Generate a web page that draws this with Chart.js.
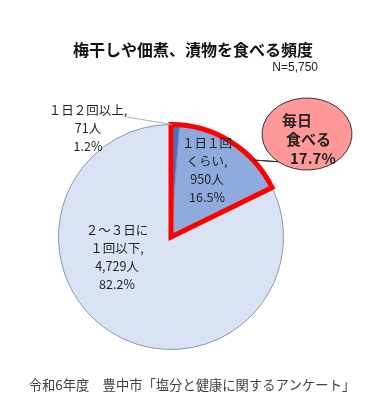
<!DOCTYPE html>
<html>
<head>
<meta charset="utf-8">
<script src="https://cdn.jsdelivr.net/npm/chart.js@4.4.0/dist/chart.umd.min.js"></script>
<style>
  html, body { margin: 0; padding: 0; background: #fff; }
  #wrap { width: 385px; height: 407px; }
</style>
</head>
<body>
<div id="wrap"><canvas id="chart" width="385" height="407"></canvas></div>
<script>
const categories = ['１日２回以上', '１日１回くらい', '２～３日に１回以下'];
const counts = [71, 950, 4729];
const percents = ['1.2%', '16.5%', '82.2%'];
const labelLines = [
  ['１日２回以上,', '71人', '1.2%'],
  ['１日１回', 'くらい,', '950人', '16.5%'],
  ['２～３日に', '１回以下,', '4,729人', '82.2%']
];
const titleText = '梅干しや佃煮、漬物を食べる頻度';
const totalText = 'N=5,750';
const calloutLines = ['毎日', '食べる', '17.7%'];
const sourceText = '令和6年度　豊中市「塩分と健康に関するアンケート」';

const JP = '"Noto Sans CJK JP", "Noto Sans", sans-serif';

// where each label block sits, relative to the pie centre
const labelOffsets = [[-83, -109], [36, -67], [-54, 20]];

const decorations = {
  id: 'decorations',
  afterDatasetsDraw(chart) {
    const ctx = chart.ctx;
    const meta = chart.getDatasetMeta(0);
    const a0 = meta.data[0].getProps(['x', 'y', 'startAngle', 'endAngle', 'outerRadius'], true);
    const a1 = meta.data[1].getProps(['x', 'y', 'startAngle', 'endAngle', 'outerRadius'], true);
    const cx = a0.x, cy = a0.y, r = a0.outerRadius;

    // red outline round the "every day" slices
    ctx.save();
    ctx.beginPath();
    ctx.moveTo(cx, cy);
    ctx.arc(cx, cy, r, a0.startAngle, a1.endAngle);
    ctx.closePath();
    ctx.lineWidth = 5;
    ctx.lineJoin = 'miter';
    ctx.strokeStyle = '#ff0000';
    ctx.stroke();
    ctx.restore();

    // leader line for the tiny slice
    const mid0 = (a0.startAngle + a0.endAngle) / 2;
    ctx.save();
    ctx.beginPath();
    ctx.moveTo(cx + Math.cos(mid0) * r - 3, cy + Math.sin(mid0) * r);
    ctx.lineTo(cx - 44, cy - 120);
    ctx.strokeStyle = '#b0b0b0';
    ctx.lineWidth = 1;
    ctx.stroke();
    ctx.restore();

    // data labels
    ctx.save();
    ctx.fillStyle = '#222';
    ctx.font = '12.5px ' + JP;
    ctx.textAlign = 'center';
    ctx.textBaseline = 'middle';
    labelLines.forEach((lines, i) => {
      const [dx, dy] = labelOffsets[i];
      const lh = 18;
      const top = cy + dy - (lines.length - 1) * lh / 2;
      lines.forEach((t, j) => ctx.fillText(t, cx + dx, top + j * lh));
    });
    ctx.restore();

    // callout bubble
    const bx = cx + 136, by = cy - 103;
    ctx.save();
    ctx.beginPath();
    ctx.ellipse(bx, by, 45, 36, 0, Math.PI * 0.72, Math.PI * 0.82 + Math.PI * 2 - 0.3, false);
    ctx.lineTo(cx + 82, cy - 77);
    ctx.closePath();
    ctx.fillStyle = '#ff9999';
    ctx.fill();
    ctx.strokeStyle = '#333';
    ctx.lineWidth = 1;
    ctx.stroke();
    ctx.fillStyle = '#222';
    ctx.font = 'bold 15px ' + JP;
    ctx.textAlign = 'left';
    ctx.textBaseline = 'middle';
    ctx.fillText(calloutLines[0], bx - 25, by - 14);
    ctx.fillText(calloutLines[1], bx - 21, by + 5);
    ctx.fillText(calloutLines[2], bx - 17, by + 24);
    ctx.restore();
  },
  afterDraw(chart) {
    const ctx = chart.ctx;
    ctx.save();
    ctx.fillStyle = '#111';
    ctx.textBaseline = 'middle';
    ctx.textAlign = 'center';
    ctx.font = 'bold 16px ' + JP;
    ctx.fillText(titleText, 193, 50);
    ctx.textAlign = 'right';
    ctx.font = '12px "Liberation Sans", Arial, sans-serif';
    ctx.fillStyle = '#222';
    ctx.fillText(totalText, 318, 68);
    ctx.textAlign = 'center';
    ctx.font = '13.3px ' + JP;
    ctx.fillStyle = '#404040';
    ctx.fillText(sourceText, 192, 385);
    ctx.restore();
  }
};

new Chart(document.getElementById('chart'), {
  type: 'pie',
  data: {
    labels: categories,
    datasets: [{
      data: counts,
      backgroundColor: ['#4472c4', '#8faadc', '#dae3f3'],
      borderColor: '#8497b0',
      borderWidth: 1
    }]
  },
  options: {
    responsive: false,
    animation: false,
    layout: { padding: { top: 124, bottom: 57, left: 20, right: 63 } },
    plugins: {
      legend: { display: false },
      tooltip: { enabled: false }
    }
  },
  plugins: [decorations]
});
</script>
</body>
</html>
